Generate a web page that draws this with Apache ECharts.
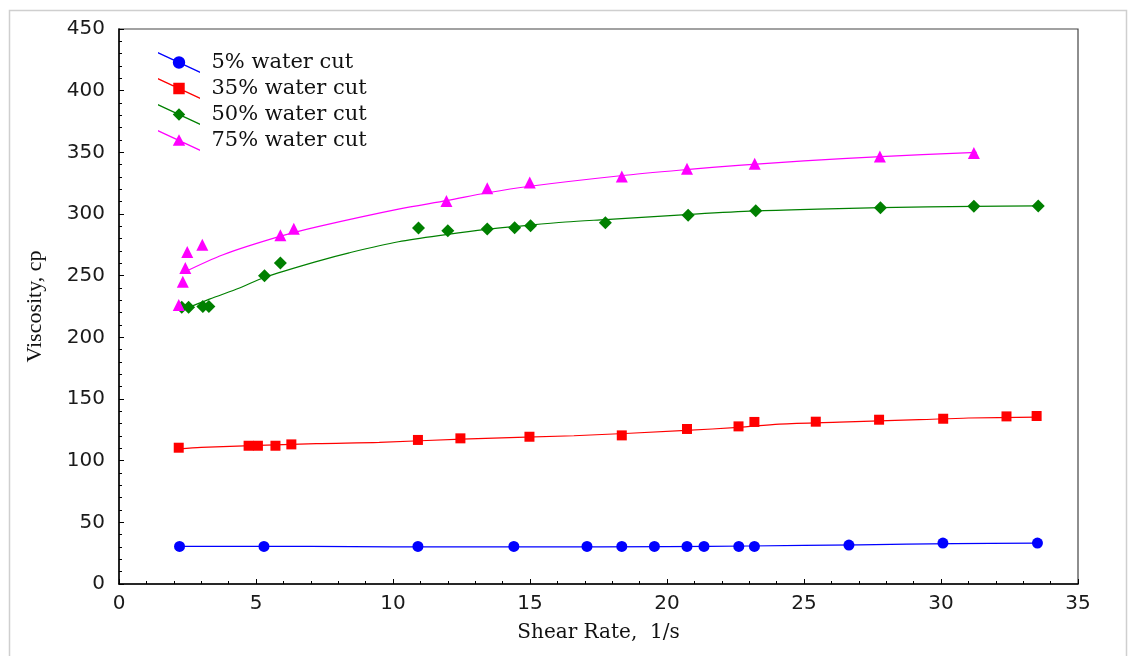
<!DOCTYPE html>
<html>
<head>
<meta charset="utf-8">
<script src="https://cdn.jsdelivr.net/npm/echarts@6/dist/echarts.min.js"></script>
<style>
html,body{margin:0;padding:0;background:#fff;}
#chart{width:1132px;height:656px;}
</style>
</head>
<body>
<div id="chart"></div>
<script>
// ---- data ----
const seriesNames = ['5% water cut', '35% water cut', '50% water cut', '75% water cut'];
const xTicks = [0, 5, 10, 15, 20, 25, 30, 35];
const yTicks = [0, 50, 100, 150, 200, 250, 300, 350, 400, 450];

// measured points
const rate5  = [2.21, 5.29, 10.91, 14.41, 17.08, 18.35, 19.54, 20.73, 21.35, 22.62, 23.19, 26.64, 30.07, 33.52];
const visc5  = [30.5, 30.5, 30.5, 30.5, 30.5, 30.5, 30.5, 30.5, 30.5, 30.5, 30.5, 31.6, 33.2, 33.2];
const rate35 = [2.18, 4.73, 5.07, 5.71, 6.29, 10.91, 12.46, 14.98, 18.35, 20.73, 22.61, 23.19, 25.43, 27.74, 30.08, 32.39, 33.49];
const visc35 = [110.5, 112.1, 112.1, 112.1, 113.2, 116.8, 118.1, 119.4, 120.5, 125.7, 127.8, 131.4, 131.6, 133.2, 134.0, 135.9, 136.2];
const rate50 = [2.29, 2.54, 3.06, 3.28, 5.31, 5.89, 10.93, 12.0, 13.44, 14.44, 15.02, 17.75, 20.77, 23.24, 27.79, 31.2, 33.55];
const visc50 = [224.3, 224.3, 225.1, 225.1, 250, 260.3, 288.6, 286.5, 287.8, 288.9, 290.5, 292.9, 298.9, 302.7, 305.1, 306.2, 306.5];
const rate75 = [2.18, 2.33, 2.42, 2.49, 3.04, 5.89, 6.38, 11.95, 13.44, 14.99, 18.35, 20.73, 23.2, 27.77, 31.2];
const visc75 = [226.2, 245.1, 256.2, 269.2, 275.1, 282.7, 288.1, 310.5, 320.8, 325.6, 330.5, 336.7, 340.8, 346.7, 349.5];

// fitted trend curves
const fitRate5  = [2.2, 7, 10, 15, 20, 23, 27, 30.5, 33.5];
const fitVisc5  = [30.5, 30.5, 30.1, 30.1, 30.3, 30.8, 31.8, 32.8, 33.2];
const fitRate35 = [2.2, 3, 7.2, 9.5, 12.5, 16.6, 20.7, 22.6, 24.1, 26.3, 29.2, 31, 33.5];
const fitVisc35 = [109.5, 110.8, 113.8, 114.8, 117.5, 120.2, 124.5, 127, 129.7, 131.3, 133.2, 134.6, 135.3];
const fitRate50 = [2.3, 3.3, 4.4, 5.3, 7.3, 8.4, 10.2, 12, 13.4, 15, 16.3, 17.75, 20.7, 23.2, 25.5, 27.8, 31.2, 33.6];
const fitVisc50 = [222, 231, 240, 248.5, 262, 268.5, 277.5, 283.5, 287.5, 291, 293.5, 295.5, 299.5, 302.5, 304, 305.1, 306.2, 306.6];
const fitRate75 = [2.3, 3.8, 5.9, 7.3, 10.2, 12, 13.4, 15, 18.3, 20.7, 22.6, 25, 27.8, 31.3];
const fitVisc75 = [252, 267, 282, 290, 304, 311, 317, 322.5, 331, 336, 339.5, 343, 346.5, 350];

// ---- styling ----
const colors = ['#0000ff', '#ff0000', '#008000', '#ff00ff'];
const symbols = ['circle', 'rect', 'diamond', 'triangle'];
const symbolSizes = [11, 10, 13, 12];
const linePart = 'M0 0 L44 20.4 L44 22 L0 1.6 Z ';
const legendIcons = [
  'path://' + linePart + 'M15.5 11 A6.5 6.5 0 1 1 28.5 11 A6.5 6.5 0 1 1 15.5 11 Z',
  'path://' + linePart + 'M16 5 L28 5 L28 17 L16 17 Z',
  'path://' + linePart + 'M22 4.5 L28.5 11 L22 17.5 L15.5 11 Z',
  'path://' + linePart + 'M22 4.5 L28.5 16.5 L15.5 16.5 Z'
];

function pairs(xs, ys) { return xs.map((x, i) => [x, ys[i]]); }

const pointSets = [pairs(rate5, visc5), pairs(rate35, visc35), pairs(rate50, visc50), pairs(rate75, visc75)];
const fitSets = [pairs(fitRate5, fitVisc5), pairs(fitRate35, fitVisc35), pairs(fitRate50, fitVisc50), pairs(fitRate75, fitVisc75)];

const series = [];
fitSets.forEach((d, i) => {
  series.push({
    name: seriesNames[i] + ' fit',
    type: 'line',
    data: d,
    smooth: 0.3,
    showSymbol: false,
    symbol: 'none',
    lineStyle: { color: colors[i], width: 1.2 },
    z: 2,
    silent: true
  });
});
pointSets.forEach((d, i) => {
  series.push({
    name: seriesNames[i],
    type: 'scatter',
    data: d,
    symbol: symbols[i],
    symbolSize: symbolSizes[i],
    itemStyle: { color: colors[i], opacity: 1 },
    z: 3
  });
});

const chart = echarts.init(document.getElementById('chart'), null, { renderer: 'canvas' });
chart.setOption({
  animation: false,
  backgroundColor: '#ffffff',
  graphic: [{
    type: 'rect',
    shape: { x: 9.5, y: 10.5, width: 1117, height: 700 },
    style: { fill: 'none', stroke: '#cfcfcf', lineWidth: 1.5 },
    silent: true,
    z: -10
  }],
  grid: {
    left: 119, right: 54, top: 29, bottom: 72,
    show: true, borderColor: '#444', borderWidth: 1.2, backgroundColor: 'transparent'
  },
  legend: {
    orient: 'vertical',
    left: 158, top: 52, padding: 0,
    itemWidth: 43, itemHeight: 21, itemGap: 5,
    data: seriesNames.map((n, i) => ({ name: n, icon: legendIcons[i] })),
    textStyle: { fontFamily: 'DejaVu Serif', fontSize: 21, color: '#111', lineHeight: 21, padding: [0, 0, 0, 6] },
    selectedMode: false
  },
  xAxis: {
    type: 'value', min: 0, max: 35, interval: 5,
    name: 'Shear Rate,  1/s', nameLocation: 'middle', nameGap: 39,
    nameTextStyle: { fontFamily: 'DejaVu Serif', fontSize: 20, color: '#111' },
    axisLine: { show: true, lineStyle: { color: '#000', width: 1.5 } },
    axisTick: { show: true, inside: true, length: 5, lineStyle: { color: '#000' } },
    minorTick: { show: true, splitNumber: 5, length: 3, lineStyle: { color: '#000' } },
    splitLine: { show: false },
    axisLabel: {
      margin: 10, fontFamily: 'DejaVu Sans', fontSize: 20, color: '#1a1a1a',
      formatter: v => (xTicks.indexOf(v) >= 0 ? String(v) : '')
    }
  },
  yAxis: {
    type: 'value', min: 0, max: 450, interval: 50,
    name: 'Viscosity, cp', nameLocation: 'middle', nameGap: 73,
    nameTextStyle: { fontFamily: 'Liberation Serif', fontSize: 22, color: '#111' },
    axisLine: { show: true, lineStyle: { color: '#000', width: 1.5 } },
    axisTick: { show: true, inside: true, length: 5, lineStyle: { color: '#000' } },
    minorTick: { show: true, splitNumber: 5, length: 3, lineStyle: { color: '#000' } },
    splitLine: { show: false },
    axisLabel: {
      margin: 14, fontFamily: 'DejaVu Sans', fontSize: 20, color: '#1a1a1a',
      formatter: v => (yTicks.indexOf(v) >= 0 ? String(v) : '')
    }
  },
  series: series
});
</script>
</body>
</html>
